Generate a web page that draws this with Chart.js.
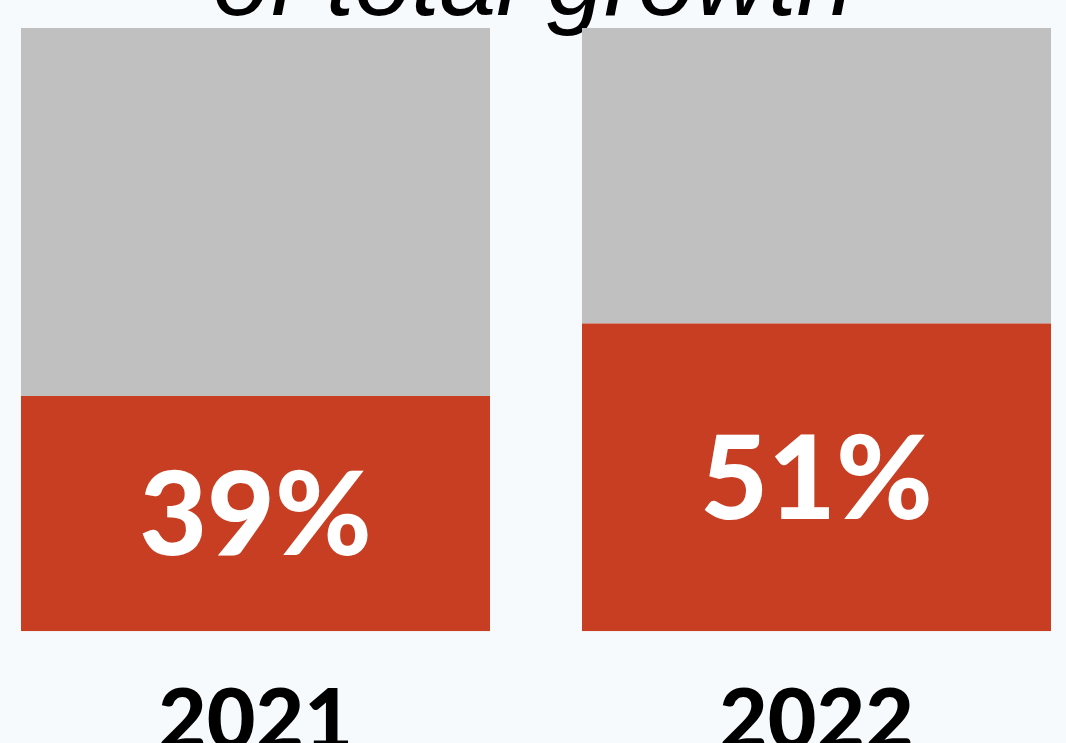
<!DOCTYPE html>
<html>
<head>
<meta charset="utf-8">
<script src="https://cdn.jsdelivr.net/npm/chart.js@4.4.0/dist/chart.umd.min.js"></script>
<style>
  html, body { margin: 0; padding: 0; width: 1066px; height: 743px; overflow: hidden; background: #f7fafd; }
  #title { position: absolute; left: 0; width: 1066px; top: -71px; text-align: center;
    font-family: "Liberation Sans", sans-serif; font-style: italic; font-weight: 400; font-size: 102px; line-height: 1; color: #000; }
  #wrap { position: absolute; left: -25px; top: 0; width: 1122px; height: 804px; }
</style>
</head>
<body>
<div id="title">of total growth</div>
<div id="wrap"><canvas id="chart"></canvas></div>
<script>
const years = ['2021', '2022'];
const share = [39, 51];
const rest = [61, 49];
const shareLabels = ['39%', '51%'];

// white % numbers in the middle of the red part
const barText = {
  id: 'barText',
  afterDatasetsDraw(chart) {
    const c = chart.ctx;
    const meta = chart.getDatasetMeta(0);
    c.save();
    c.fillStyle = '#ffffff';
    c.font = '900 117px Lato';
    c.textAlign = 'center';
    c.textBaseline = 'middle';
    meta.data.forEach((bar, i) => {
      c.fillText(shareLabels[i], bar.x, (bar.y + bar.base) / 2 + 4);
    });
    c.restore();
  }
};

const ctx = document.querySelector('#chart');
const chart = new Chart(ctx, {
  type: 'bar',
  plugins: [barText],
  data: {
    labels: years,
    datasets: [
      { label: 'share', data: share, backgroundColor: '#c83e22' },
      { label: 'rest', data: rest, backgroundColor: '#c0c0c0' }
    ]
  },
  options: {
    responsive: true,
    maintainAspectRatio: false,
    animation: false,
    layout: { padding: { top: 28, left: 0, right: 0, bottom: 0 } },
    datasets: { bar: { categoryPercentage: 0.836, barPercentage: 1 } },
    scales: {
      x: {
        stacked: true,
        grid: { display: false },
        border: { display: false },
        ticks: { color: '#000', padding: 32, font: { family: 'Lato', weight: '900', size: 84 } }
      },
      y: {
        stacked: true,
        display: false,
        min: 0,
        max: 100
      }
    },
    plugins: {
      legend: { display: false },
      tooltip: { enabled: false }
    }
  }
});
</script>
</body>
</html>
